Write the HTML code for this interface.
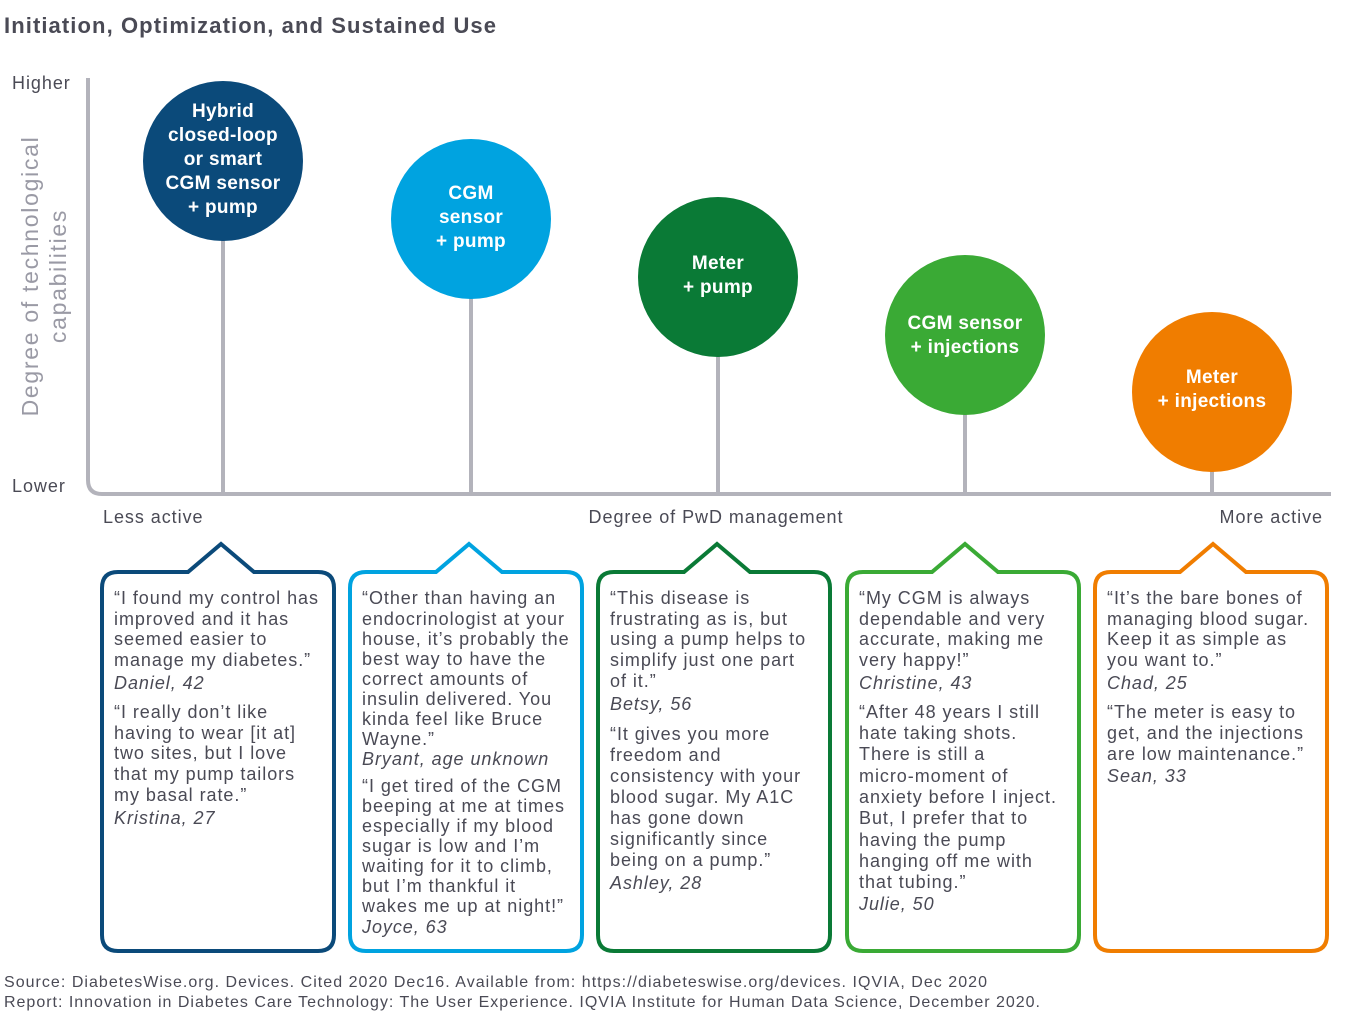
<!DOCTYPE html>
<html><head><meta charset="utf-8"><style>
body{margin:0;background:#fff}
svg{display:block;font-family:"Liberation Sans",sans-serif}
.q{font-size:18px;fill:#4a4a55;letter-spacing:0.95px}
.a{font-style:italic}
.c{font-weight:bold;font-size:19px;fill:#fff;letter-spacing:0.3px}
</style></head><body>
<svg width="1352" height="1018" viewBox="0 0 1352 1018">
<text x="4" y="33" font-size="22" font-weight="bold" fill="#4a4a55" textLength="492" lengthAdjust="spacing">Initiation, Optimization, and Sustained Use</text>
<text x="12" y="89" class="q" font-size="19" letter-spacing="1.5">Higher</text>
<text x="12" y="492" class="q" font-size="19" letter-spacing="1.5">Lower</text>
<text transform="translate(38,276) rotate(-90)" text-anchor="middle" font-size="23" fill="#9a9aa5" letter-spacing="1.7">Degree of technological</text>
<text transform="translate(66,276) rotate(-90)" text-anchor="middle" font-size="23" fill="#9a9aa5" letter-spacing="1.7">capabilities</text>
<path d="M88 78 V480 Q88 494 102 494 H1331" fill="none" stroke="#b3b3bb" stroke-width="4"/>
<g stroke="#b3b3bb" stroke-width="4">
<line x1="223" y1="200" x2="223" y2="494"/><line x1="471" y1="250" x2="471" y2="494"/><line x1="718" y1="300" x2="718" y2="494"/><line x1="965" y1="360" x2="965" y2="494"/><line x1="1212" y1="420" x2="1212" y2="494"/>
</g>
<text x="103" y="523" class="q" font-size="19">Less active</text>
<text x="716" y="523" class="q" font-size="19" text-anchor="middle">Degree of PwD management</text>
<text x="1323" y="523" class="q" font-size="19" text-anchor="end">More active</text>
<g text-anchor="middle" class="c">
<circle cx="223" cy="161" r="80" fill="#0b4a7a"/>
<text x="223" y="117" class="c">Hybrid</text><text x="223" y="141" class="c">closed-loop</text><text x="223" y="165" class="c">or smart</text><text x="223" y="189" class="c">CGM sensor</text><text x="223" y="213" class="c">+ pump</text>
<circle cx="471" cy="219" r="80" fill="#00a3e0"/>
<text x="471" y="199" class="c">CGM</text><text x="471" y="223" class="c">sensor</text><text x="471" y="247" class="c">+ pump</text>
<circle cx="718" cy="277" r="80" fill="#0a7a36"/>
<text x="718" y="269" class="c">Meter</text><text x="718" y="293" class="c">+ pump</text>
<circle cx="965" cy="335" r="80" fill="#3aaa35"/>
<text x="965" y="329" class="c">CGM sensor</text><text x="965" y="353" class="c">+ injections</text>
<circle cx="1212" cy="392" r="80" fill="#f07d00"/>
<text x="1212" y="383" class="c">Meter</text><text x="1212" y="407" class="c">+ injections</text>
</g>
<g fill="#fff" stroke-width="4">
<path stroke="#0b4a7a" d="M118 572 H188 L221 544 L254 572 H318 Q334 572 334 588 V935 Q334 951 318 951 H118 Q102 951 102 935 V588 Q102 572 118 572Z"/>
<path stroke="#00a3e0" d="M366 572 H436 L469 544 L502 572 H566 Q582 572 582 588 V935 Q582 951 566 951 H366 Q350 951 350 935 V588 Q350 572 366 572Z"/>
<path stroke="#0a7a36" d="M614 572 H684 L717 544 L750 572 H814 Q830 572 830 588 V935 Q830 951 814 951 H614 Q598 951 598 935 V588 Q598 572 614 572Z"/>
<path stroke="#3aaa35" d="M863 572 H932 L965 544 L998 572 H1063 Q1079 572 1079 588 V935 Q1079 951 1063 951 H863 Q847 951 847 935 V588 Q847 572 863 572Z"/>
<path stroke="#f07d00" d="M1111 572 H1180 L1213 544 L1246 572 H1311 Q1327 572 1327 588 V935 Q1327 951 1311 951 H1111 Q1095 951 1095 935 V588 Q1095 572 1111 572Z"/>
</g>
<g class="q">
<text x="114" y="604">“I found my control has</text><text x="114" y="625">improved and it has</text><text x="114" y="645">seemed easier to</text><text x="114" y="666">manage my diabetes.”</text><text x="114" y="689" class="a">Daniel, 42</text>
<text x="114" y="718">“I really don’t like</text><text x="114" y="739">having to wear [it at]</text><text x="114" y="759">two sites, but I love</text><text x="114" y="780">that my pump tailors</text><text x="114" y="801">my basal rate.”</text><text x="114" y="824" class="a">Kristina, 27</text>

<text x="362" y="604">“Other than having an</text><text x="362" y="625">endocrinologist at your</text><text x="362" y="645">house, it’s probably the</text><text x="362" y="665">best way to have the</text><text x="362" y="685">correct amounts of</text><text x="362" y="705">insulin delivered. You</text><text x="362" y="725">kinda feel like Bruce</text><text x="362" y="745">Wayne.”</text><text x="362" y="765" class="a">Bryant, age unknown</text>
<text x="362" y="792">“I get tired of the CGM</text><text x="362" y="812">beeping at me at times</text><text x="362" y="832">especially if my blood</text><text x="362" y="852">sugar is low and I’m</text><text x="362" y="872">waiting for it to climb,</text><text x="362" y="892">but I’m thankful it</text><text x="362" y="912">wakes me up at night!”</text><text x="362" y="933" class="a">Joyce, 63</text>

<text x="610" y="604">“This disease is</text><text x="610" y="625">frustrating as is, but</text><text x="610" y="645">using a pump helps to</text><text x="610" y="666">simplify just one part</text><text x="610" y="687">of it.”</text><text x="610" y="710" class="a">Betsy, 56</text>
<text x="610" y="740">“It gives you more</text><text x="610" y="761">freedom and</text><text x="610" y="782">consistency with your</text><text x="610" y="803">blood sugar. My A1C</text><text x="610" y="824">has gone down</text><text x="610" y="845">significantly since</text><text x="610" y="866">being on a pump.”</text><text x="610" y="889" class="a">Ashley, 28</text>

<text x="859" y="604">“My CGM is always</text><text x="859" y="625">dependable and very</text><text x="859" y="645">accurate, making me</text><text x="859" y="666">very happy!”</text><text x="859" y="689" class="a">Christine, 43</text>
<text x="859" y="718">“After 48 years I still</text><text x="859" y="739">hate taking shots.</text><text x="859" y="760">There is still a</text><text x="859" y="782">micro-moment of</text><text x="859" y="803">anxiety before I inject.</text><text x="859" y="824">But, I prefer that to</text><text x="859" y="846">having the pump</text><text x="859" y="867">hanging off me with</text><text x="859" y="888">that tubing.”</text><text x="859" y="910" class="a">Julie, 50</text>

<text x="1107" y="604">“It’s the bare bones of</text><text x="1107" y="625">managing blood sugar.</text><text x="1107" y="645">Keep it as simple as</text><text x="1107" y="666">you want to.”</text><text x="1107" y="689" class="a">Chad, 25</text>
<text x="1107" y="718">“The meter is easy to</text><text x="1107" y="739">get, and the injections</text><text x="1107" y="760">are low maintenance.”</text><text x="1107" y="782" class="a">Sean, 33</text>
</g>
<text x="4" y="987" font-size="16" fill="#4a4a55" textLength="983" lengthAdjust="spacing">Source: DiabetesWise.org. Devices. Cited 2020 Dec16. Available from: https://diabeteswise.org/devices. IQVIA, Dec 2020</text>
<text x="4" y="1007" font-size="16" fill="#4a4a55" textLength="1036" lengthAdjust="spacing">Report: Innovation in Diabetes Care Technology: The User Experience. IQVIA Institute for Human Data Science, December 2020.</text>
</svg>
</body></html>
